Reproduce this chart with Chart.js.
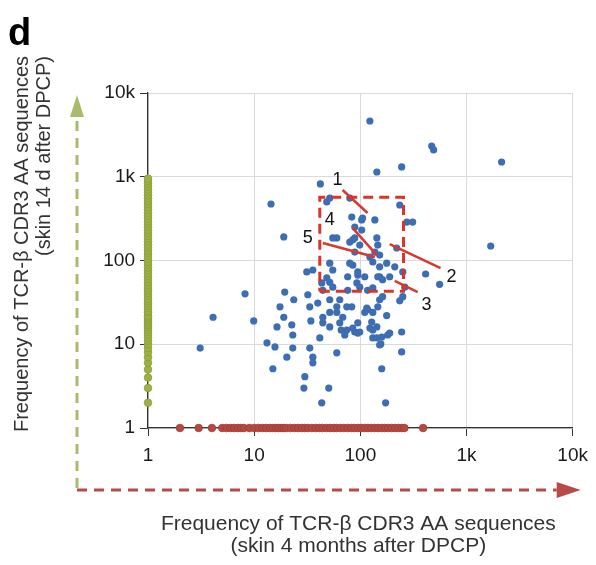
<!DOCTYPE html>
<html>
<head>
<meta charset="utf-8">
<script src="https://cdn.jsdelivr.net/npm/chart.js@4"></script>
<style>
  html, body { margin: 0; padding: 0; background: #fff; }
</style>
</head>
<body>
<canvas id="chart" width="596" height="565"></canvas>
<script>
// Axis ticks (log scale, both axes)
const tickValues = [1, 10, 100, 1000, 10000];
const tickLabels = ['1', '10', '100', '1k', '10k'];

// Clones found in both samples (x: skin 4 months, y: skin 14 d)
const blueX = [123, 470, 490, 2140, 245, 143, 1690, 42, 14.4, 19, 412, 558, 245, 245, 159, 173, 156, 181, 177, 235,
  131, 8.2, 4.1, 3.1, 9.9, 19.4, 23.6, 32, 17.5, 19, 16.4, 22.6, 23.1, 13.2, 15.7, 23.1, 20.3, 33.4, 35.7, 35.7,
  34.2, 41.5, 60, 15, 30, 29.4, 50.4, 43.3, 31.3, 35.7, 51.5, 55, 43.3, 39.7, 51.5, 60, 74.5, 64, 74.5, 88.6,
  94.6, 68.3, 110, 143, 117, 152, 51.5, 64, 76, 98.7, 131, 162, 251, 44.3, 51.5, 94.6, 143, 123, 44.3, 51.5,
  94.6, 152, 189, 117, 262, 33.4, 83, 115, 146, 131, 44.3, 60, 128, 66, 84.8, 98.7, 131, 71.3, 159, 189,
  152, 51.5, 79.5, 83, 103, 137, 88.6, 103, 60, 79.5, 88.6, 98.7, 146, 137, 152, 123, 131, 220, 274, 235,
  84.8, 94.6, 76, 110, 146, 177, 211, 251, 152, 311, 105, 84.8, 48.3, 48.3, 55, 55, 143, 88.6, 79.5, 162, 92.7];
const blueY = [4630, 2330, 2090, 1500, 1310, 1140, 149, 820, 473, 191, 69, 52, 14, 8.1, 5.1, 2.0, 10.1, 12.9, 22, 33,
  11.9, 40, 21, 9.0, 19, 42, 34, 39, 28, 21, 16.1, 17, 12.9, 10.4, 9.3, 9.0, 7.0, 9.0, 7.0, 6.0,
  19, 11.9, 7.9, 5.1, 4.1, 3.0, 3.0, 2.0, 73, 77, 93, 77, 54, 31, 24, 28, 28, 18, 14.8, 14,
  18, 21, 24, 16.1, 26, 34, 34, 34, 44, 48, 47, 37, 37, 18, 16.1, 13.6, 11.9, 15.6, 44, 55,
  67, 64, 64, 44, 48, 28, 28, 27, 28, 24, 21, 24, 18.4, 14.8, 15.6, 14, 14.8, 12.9, 12.2, 13.6,
  9.8, 557, 557, 330, 305, 305, 251, 231, 186, 166, 186, 153, 153, 126, 116, 110, 96, 141, 288, 460,
  88, 73, 64, 64, 64, 93, 84, 73, 84, 288, 321, 176, 500, 62, 48, 186, 186, 126, 93, 59, 54];

// Clones only in skin 14 d (x = 1)
const greenY = [2, 3, 4, 5, 6, 7, 8, 9, 10, 11, 12, 13, 14, 15, 16, 17, 18, 19, 20, 21, 22, 24, 25, 27, 29, 31, 33,
  35, 38, 41, 44, 47, 51, 55, 60, 65, 70, 76, 82, 89, 96, 104, 113, 122, 132, 143, 155, 168, 182, 197, 213,
  231, 250, 271, 293, 317, 343, 372, 403, 436, 472, 511, 553, 600, 650, 704, 762, 825, 893, 950];

// Clones only in skin 4 months (y = 1)
const redX = [2, 3, 4, 5, 5.5, 6, 6.5, 7, 7.5, 8, 9, 10, 11, 12, 13, 14, 15, 16, 17, 18, 19, 20, 22, 24, 26, 28, 30,
  32, 35, 38, 41, 44, 48, 52, 56, 60, 65, 70, 76, 82, 88, 95, 102, 110, 118, 127, 137, 147, 158, 170, 183,
  197, 212, 228, 245, 260, 390];

// Highlighted region and tracked clones 1-5
const boxX = [41.5, 255, 255, 41.5, 41.5];
const boxY = [43, 43, 570, 570, 43];
const cloneNames = ['1', '2', '3', '4', '5'];
const cloneLineX = [[68, 117], [189, 570], [211, 347], [84.8, 143], [44.3, 137]];
const cloneLineY = [[695, 369], [157, 81], [57, 42], [244, 116], [162, 110]];
const cloneLabelX = [61, 724, 421, 51.5, 32];
const cloneLabelY = [915, 63.5, 29.4, 305, 186];

const FONT = "'Liberation Sans', Arial, sans-serif";

const pts = (xs, ys) => xs.map((x, i) => ({ x: x, y: ys[i] }));

const datasets = [];
datasets.push({
    data: pts(boxX, boxY), showLine: true, pointRadius: 0, borderColor: '#d8352c',
    borderWidth: 3, borderDash: [10, 6], order: 0, clip: false
});
cloneLineX.forEach((xs, i) => {
    datasets.push({
        data: pts(xs, cloneLineY[i]), showLine: true, pointRadius: 0, borderColor: '#d63a2e',
        borderWidth: 2.5, order: 0, clip: false
    });
});
datasets.push({
    data: pts(blueX, blueY), pointRadius: 3.6, pointBackgroundColor: '#3d6db2',
    pointBorderColor: '#3d6db2', pointBorderWidth: 0, order: 1
});
datasets.push({
    data: greenY.map(y => ({ x: 1, y: y })), pointRadius: 3.8, pointBackgroundColor: '#9db042',
    pointBorderColor: '#8a9e36', pointBorderWidth: 0.8, order: 2, clip: false
});
datasets.push({
    data: redX.map(x => ({ x: x, y: 1 })), pointRadius: 3.8, pointBackgroundColor: '#b5483f',
    pointBorderColor: '#a03c35', pointBorderWidth: 0.8, order: 2, clip: false
});

function tickOpts(pad) {
    return {
        callback: v => tickLabels[tickValues.indexOf(v)],
        color: '#1a1a1a',
        font: { family: FONT, size: 19 },
        autoSkip: false,
        maxRotation: 0,
        padding: pad
    };
}

function logAxis(extra) {
    return Object.assign({
        type: 'logarithmic',
        min: 1,
        max: 10000,
        afterBuildTicks: scale => { scale.ticks = tickValues.map(v => ({ value: v })); },
        grid: { color: '#dadada', lineWidth: 1, tickColor: '#333', tickLength: 8 },
        border: { display: true, color: '#333', width: 1.3 }
    }, extra);
}

const decor = {
    id: 'decor',
    afterDatasetsDraw(chart) {
        const ctx = chart.ctx;
        const xs = chart.scales.x, ys = chart.scales.y;
        ctx.save();
        ctx.fillStyle = '#111';
        ctx.font = '18px ' + FONT;
        ctx.textAlign = 'center';
        ctx.textBaseline = 'middle';
        cloneNames.forEach((n, i) => {
            ctx.fillText(n, xs.getPixelForValue(cloneLabelX[i]), ys.getPixelForValue(cloneLabelY[i]));
        });
        ctx.restore();
    },
    afterDraw(chart) {
        const ctx = chart.ctx;
        const ca = chart.chartArea;
        ctx.save();

        // panel letter
        ctx.fillStyle = '#000';
        ctx.font = 'bold 38px ' + FONT;
        ctx.textAlign = 'left';
        ctx.textBaseline = 'alphabetic';
        ctx.fillText('d', 8, 45);

        // axis titles
        ctx.fillStyle = '#333';
        ctx.font = '21px ' + FONT;
        ctx.textAlign = 'center';
        ctx.textBaseline = 'middle';
        const cx = (ca.left + ca.right) / 2;
        ctx.fillText('Frequency of TCR-\u03b2 CDR3 AA sequences', cx - 2, ca.bottom + 96);
        ctx.fillText('(skin 4 months after DPCP)', cx - 2, ca.bottom + 118);

        ctx.font = '20px ' + FONT;
        ctx.save();
        ctx.translate(ca.left - 126, ca.top + 151);
        ctx.rotate(-Math.PI / 2);
        ctx.fillText('Frequency of TCR-\u03b2 CDR3 AA sequences', 0, 0);
        ctx.restore();
        ctx.save();
        ctx.translate(ca.left - 104, ca.top + 63);
        ctx.rotate(-Math.PI / 2);
        ctx.fillText('(skin 14 d after DPCP)', 0, 0);
        ctx.restore();

        // dashed arrows
        const ax = ca.left - 71;
        const ay = ca.bottom + 62;
        ctx.lineWidth = 3;
        ctx.setLineDash([10, 7]);
        ctx.strokeStyle = '#a9bc6c';
        ctx.beginPath();
        ctx.moveTo(ax, ay - 2);
        ctx.lineTo(ax, ca.top + 24);
        ctx.stroke();
        ctx.strokeStyle = '#b84a4a';
        ctx.beginPath();
        ctx.moveTo(ax, ay);
        ctx.lineTo(ca.right - 16, ay);
        ctx.stroke();
        ctx.setLineDash([]);

        ctx.fillStyle = '#a9bc6c';
        ctx.beginPath();
        ctx.moveTo(ax, ca.top + 2);
        ctx.lineTo(ax - 7, ca.top + 24);
        ctx.lineTo(ax + 7, ca.top + 24);
        ctx.closePath();
        ctx.fill();

        ctx.fillStyle = '#b84a4a';
        ctx.beginPath();
        ctx.moveTo(ca.right + 8, ay);
        ctx.lineTo(ca.right - 16, ay - 8);
        ctx.lineTo(ca.right - 16, ay + 8);
        ctx.closePath();
        ctx.fill();

        ctx.restore();
    }
};

new Chart(document.getElementById('chart'), {
    type: 'scatter',
    data: { datasets: datasets },
    options: {
        responsive: false,
        animation: false,
        layout: { padding: { left: 88, top: 93, right: 23, bottom: 97 } },
        plugins: { legend: { display: false }, tooltip: { enabled: false } },
        scales: {
            x: logAxis({
                position: 'bottom',
                afterFit: scale => { scale.height = 40; },
                ticks: tickOpts(8)
            }),
            y: logAxis({
                position: 'left',
                afterFit: scale => { scale.width = 60; },
                ticks: tickOpts(5)
            })
        }
    },
    plugins: [decor]
});
</script>
</body>
</html>
